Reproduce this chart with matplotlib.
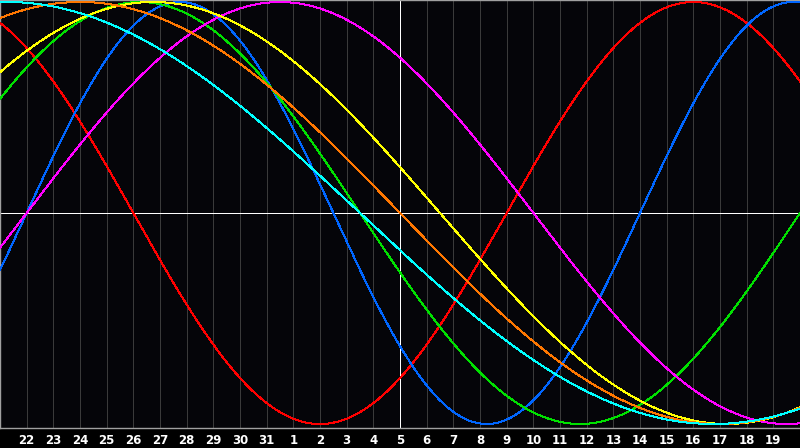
import numpy as np
import matplotlib
matplotlib.use("Agg")
import matplotlib.pyplot as plt

# biorhythm cycles (days) and their colours
cycles = ["emotional", "physical", "intellectual", "intuitive", "aesthetic", "awareness", "spiritual"]
periods = [28, 23, 33, 38, 43, 48, 53]
colors = ["#ff0000", "#0066ff", "#00e000", "#ff00ff", "#ffff00", "#ff7700", "#00ffff"]

# days since birth at the left edge of the chart
first_day = 21849
n_days = 30

day_labels = [str(d) for d in list(range(22, 32)) + list(range(1, 20))]

bg = "#050509"
px = 0.72  # one pixel in points at dpi 100

fig = plt.figure(figsize=(8, 4.48), dpi=100, facecolor="black")
ax = fig.add_axes([0, 20 / 448, 1, 428 / 448])
ax.set_facecolor(bg)

# grid
for i in range(1, n_days):
    ax.axvline(i, color="#3a3a3a", lw=px, antialiased=False, zorder=1)
ax.axvline(n_days / 2, color="white", lw=px, antialiased=False, zorder=2)
ax.axhline(0, color="white", lw=px, antialiased=False, zorder=2)

t = np.linspace(0, n_days, 1601)
for p, c in zip(periods, colors):
    ax.plot(t, np.sin(2 * np.pi * (first_day + t) / p), color=c, lw=px,
            antialiased=False, zorder=3)

ax.set_xlim(0, n_days)
ax.set_ylim((213 - 428) / 211, 213 / 211)

ax.set_xticks(range(1, n_days))
ax.set_xticklabels(day_labels, color="white", fontsize=8.5, fontweight="bold")
ax.tick_params(axis="x", length=0, pad=4)
ax.set_yticks([])

for s in ["left", "top", "bottom"]:
    ax.spines[s].set_color("#a0a0a0")
    ax.spines[s].set_linewidth(1.0)
ax.spines["right"].set_visible(False)

fig.savefig("out.png", dpi=100, facecolor="black")
